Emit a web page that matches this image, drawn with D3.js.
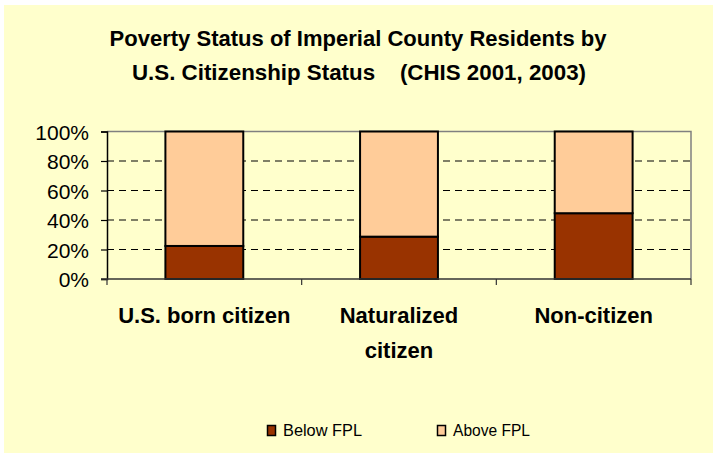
<!DOCTYPE html>
<html>
<head>
<meta charset="utf-8">
<script src="https://cdn.jsdelivr.net/npm/d3@7"></script>
<style>
  body { margin: 0; background: #fff; }
  text { font-family: Arial, "Liberation Sans", sans-serif; fill: #000; }
</style>
</head>
<body>
<div class="wrapper"></div>
<script>
const categories = [['U.S. born citizen'], ['Naturalized', 'citizen'], ['Non-citizen']]
const below = [22.4, 28.7, 44.6]
const above = below.map(v => 100 - v)
const series = ['Below FPL', 'Above FPL']
const colors = ['#993300', '#FFCC99']
const yTicks = [0, 20, 40, 60, 80, 100]

const width = 713, height = 453
const plot = { left: 107, right: 691, top: 131.5, bottom: 279 }

const svg = d3.select('.wrapper')
  .append('svg')
  .attr('width', width)
  .attr('height', height)

svg.append('rect')
  .attr('x', 4).attr('y', 5)
  .attr('width', width - 4).attr('height', height - 5)
  .attr('fill', '#FFFFCC')

// title
const title = svg.append('g')
  .attr('font-weight', 'bold')
  .attr('font-size', 22)
  .attr('text-anchor', 'middle')
title.append('text').attr('x', 358).attr('y', 46)
  .attr('textLength', 497).attr('lengthAdjust', 'spacingAndGlyphs')
  .text('Poverty Status of Imperial County Residents by')
title.append('text').attr('x', 359).attr('y', 80)
  .attr('textLength', 454).attr('lengthAdjust', 'spacingAndGlyphs')
  .attr('xml:space', 'preserve')
  .text('U.S. Citizenship Status    (CHIS 2001, 2003)')

const x = d3.scaleBand()
  .domain(d3.range(categories.length))
  .range([plot.left, plot.right])
  .paddingInner(0.6)
  .paddingOuter(0.3)

const xb = d3.scaleBand()
  .domain(d3.range(categories.length))
  .range([plot.left, plot.right])

const y = d3.scaleLinear()
  .domain([0, 100])
  .range([plot.bottom, plot.top])

// dashed gridlines
svg.append('g')
  .selectAll('line')
  .data(yTicks.filter(t => t > 0 && t < 100))
  .join('line')
  .attr('x1', plot.left).attr('x2', plot.right)
  .attr('y1', d => y(d)).attr('y2', d => y(d))
  .attr('stroke', '#000')
  .attr('stroke-width', 1.2)
  .attr('stroke-dasharray', '7,5')

// plot border (top and right, grey)
svg.append('path')
  .attr('d', `M${plot.left},${plot.top}H${plot.right}V${plot.bottom}`)
  .attr('fill', 'none')
  .attr('stroke', '#808080')
  .attr('stroke-width', 1.5)

// stacked bars
const stack = d3.stack().keys([0, 1])(below.map((b, i) => [b, above[i]]))
svg.append('g')
  .selectAll('g')
  .data(stack)
  .join('g')
  .attr('fill', (d, i) => colors[i])
  .selectAll('rect')
  .data(d => d)
  .join('rect')
  .attr('x', (d, i) => x(i))
  .attr('width', x.bandwidth())
  .attr('y', d => y(d[1]))
  .attr('height', d => y(d[0]) - y(d[1]))
  .attr('stroke', '#000')
  .attr('stroke-width', 2)

// y axis
const yAxis = svg.append('g')
  .attr('transform', `translate(${plot.left},0)`)
  .call(d3.axisLeft(y).tickValues(yTicks).tickFormat(d => d + '%').tickSize(6).tickPadding(12))
yAxis.select('.domain').attr('stroke', '#000').attr('stroke-width', 1.5)
yAxis.selectAll('.tick line').attr('stroke', '#000').attr('stroke-width', 1.2)
yAxis.selectAll('text').attr('font-size', 21).attr('dy', '0.36em')

// x axis line and ticks at category boundaries
svg.append('line')
  .attr('x1', plot.left - 6).attr('x2', plot.right)
  .attr('y1', plot.bottom).attr('y2', plot.bottom)
  .attr('stroke', '#333').attr('stroke-width', 1.5)
svg.append('g')
  .selectAll('line')
  .data(d3.range(categories.length + 1))
  .join('line')
  .attr('x1', d => plot.left + d * xb.bandwidth())
  .attr('x2', d => plot.left + d * xb.bandwidth())
  .attr('y1', plot.bottom).attr('y2', plot.bottom + 6)
  .attr('stroke', '#333').attr('stroke-width', 1.2)

// category labels
svg.append('g')
  .selectAll('text')
  .data(categories)
  .join('text')
  .attr('x', (d, i) => xb(i) + xb.bandwidth() / 2)
  .attr('y', 323)
  .attr('text-anchor', 'middle')
  .attr('font-size', 22)
  .attr('font-weight', 'bold')
  .selectAll('tspan')
  .data(d => d)
  .join('tspan')
  .attr('x', function () { return this.parentNode.getAttribute('x') })
  .attr('dy', (d, i) => i ? 35 : 0)
  .text(d => d)

// legend
const legendX = [267, 437]
const legendW = [79, 77]
const legend = svg.append('g')
  .selectAll('g')
  .data(series)
  .join('g')
  .attr('transform', (d, i) => `translate(${legendX[i]},425)`)
legend.append('rect')
  .attr('x', 0.5).attr('y', 0.5)
  .attr('width', 8).attr('height', 10)
  .attr('fill', (d, i) => colors[i])
  .attr('stroke', '#000').attr('stroke-width', 1.5)
legend.append('text')
  .attr('x', 16).attr('y', 11)
  .attr('font-size', 17)
  .attr('textLength', (d, i) => legendW[i])
  .attr('lengthAdjust', 'spacingAndGlyphs')
  .text(d => d)
</script>
</body>
</html>
